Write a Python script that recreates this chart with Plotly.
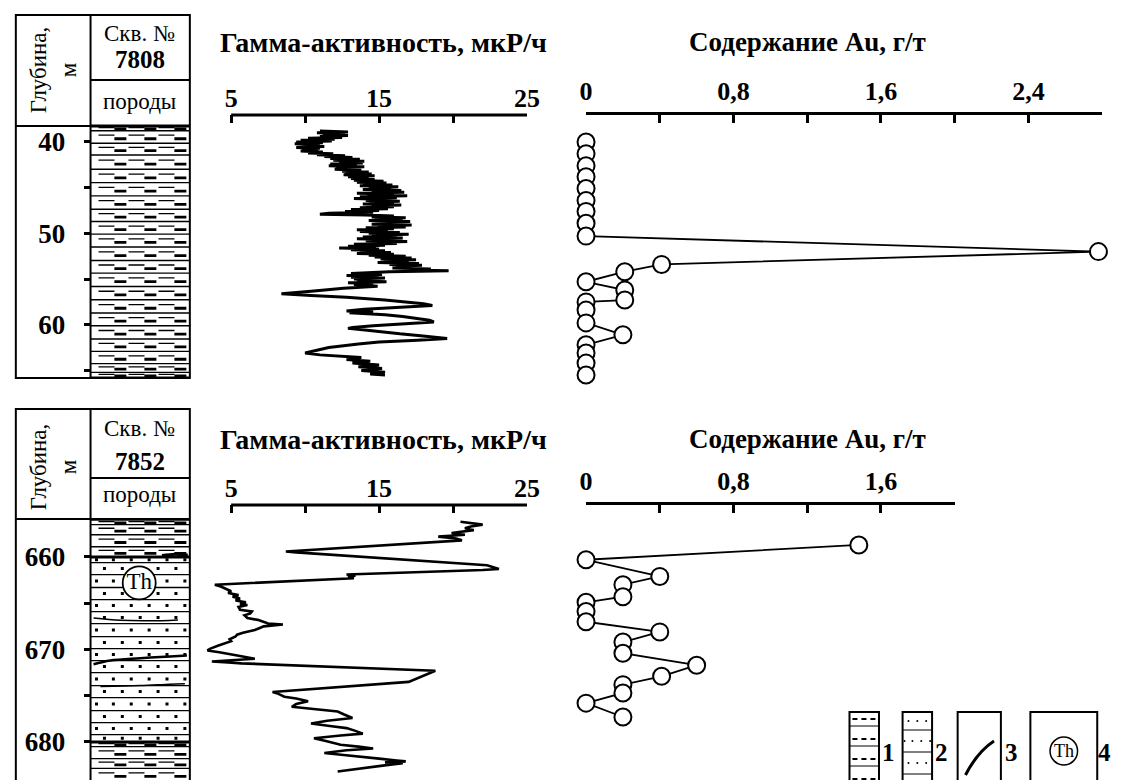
import plotly.graph_objects as go

W, H = 1124, 780
SERIF = "Liberation Serif"

def px(x):
    return x / W

def py(y):
    return 1 - y / H

# ---------------- data: well 7808 ----------------
g1_depth = [38.8, 38.9, 39.0, 39.1, 39.2, 39.3, 39.4, 39.5, 39.6, 39.7, 39.8, 39.9, 40.0, 40.1, 40.2, 40.3,
            40.4, 40.5, 40.6, 40.7, 40.8, 40.9, 41.0, 41.1, 41.2, 41.3, 41.4, 41.5, 41.6, 41.7, 41.8, 41.9,
            42.0, 42.1, 42.2, 42.3, 42.4, 42.5, 42.6, 42.7, 42.8, 42.9, 43.0, 43.1, 43.2, 43.3, 43.4, 43.5,
            43.6, 43.7, 43.8, 43.9, 44.0, 44.1, 44.2, 44.3, 44.4, 44.5, 44.6, 44.7, 44.8, 44.9, 45.0, 45.1,
            45.2, 45.3, 45.4, 45.5, 45.6, 45.7, 45.8, 45.9, 46.0, 46.1, 46.2, 46.3, 46.4, 46.5, 46.6, 46.7,
            46.8, 46.9, 47.0, 47.1, 47.2, 47.3, 47.4, 47.5, 47.6, 47.7, 47.8, 47.9, 48.0, 48.1, 48.2, 48.3,
            48.4, 48.5, 48.6, 48.7, 48.8, 48.9, 49.0, 49.1, 49.2, 49.3, 49.4, 49.5, 49.6, 49.7, 49.8, 49.9,
            50.0, 50.1, 50.2, 50.3, 50.4, 50.5, 50.6, 50.7, 50.8, 50.9, 51.0, 51.1, 51.2, 51.3, 51.4, 51.5,
            51.6, 51.7, 51.8, 51.9, 52.0, 52.1, 52.2, 52.3, 52.4, 52.5, 52.6, 52.7, 52.8, 52.9, 53.0, 53.1,
            53.2, 53.3, 53.4, 53.5, 53.6, 53.7, 53.8, 53.9, 54.0, 54.1, 54.2, 54.3, 54.4, 54.5, 54.6, 54.7,
            54.8, 54.9, 55.0, 55.1, 55.2, 55.3, 55.4, 55.5, 55.6, 55.8, 56.0, 56.3, 56.6, 56.8, 57.0, 57.3,
            57.5, 57.7, 57.9, 58.1, 58.3, 58.5, 58.6, 58.7, 58.9, 59.1, 59.3, 59.5, 59.7, 59.9, 60.1, 60.3,
            60.4, 60.6, 60.8, 61.0, 61.2, 61.4, 61.5, 61.7, 61.9, 62.1, 62.3, 62.5, 62.8, 63.1, 63.3, 63.5,
            63.6, 63.8, 64.0, 64.2, 64.4, 64.6, 64.8, 65.0, 65.2, 65.4, 65.5]
g1_value = [11.0, 12.9, 10.8, 12.7, 11.2, 12.9, 11.0, 12.5, 10.2, 12.0, 9.7, 11.8, 9.4, 11.2, 9.3, 11.0,
            9.9, 11.3, 9.4, 11.0, 9.8, 10.9, 9.7, 11.2, 10.2, 11.9, 10.8, 12.7, 11.3, 13.2, 11.7, 13.7,
            11.9, 14.0, 12.3, 13.9, 11.7, 13.5, 11.6, 14.0, 12.1, 13.3, 12.0, 13.8, 12.5, 14.3, 12.7, 14.5,
            12.6, 14.7, 12.9, 14.3, 13.1, 14.7, 13.3, 15.3, 13.5, 15.5, 13.9, 15.9, 13.7, 16.3, 14.3, 15.8,
            13.9, 16.5, 14.5, 16.7, 13.5, 16.0, 14.2, 16.9, 13.7, 16.2, 13.3, 15.6, 14.1, 16.4, 14.3, 16.0,
            13.9, 16.5, 14.5, 16.0, 13.7, 15.6, 13.1, 15.0, 12.7, 14.6, 11.6, 11.0, 14.1, 16.0, 14.5, 16.8,
            14.7, 16.6, 14.3, 17.1, 15.1, 16.4, 14.5, 17.2, 14.9, 16.8, 14.1, 16.0, 13.5, 15.6, 13.7, 16.4,
            14.3, 17.0, 14.5, 16.2, 13.9, 16.6, 13.5, 15.8, 14.1, 16.9, 14.5, 16.2, 13.3, 15.4, 12.9, 14.8,
            12.3, 15.0, 13.1, 15.4, 13.7, 15.8, 13.5, 16.0, 14.3, 16.8, 14.7, 17.2, 15.1, 17.5, 15.3, 17.0,
            14.9, 17.7, 15.7, 17.9, 16.1, 17.4, 15.9, 18.5, 16.7, 19.7, 15.7, 14.1, 13.1, 15.2, 12.8, 15.0,
            13.1, 15.4, 13.3, 14.8, 13.5, 15.5, 12.9, 14.6, 13.3, 14.9, 12.6, 10.6, 8.4, 10.4, 12.8, 15.4,
            16.6, 18.0, 18.6, 16.2, 14.0, 12.8, 14.6, 13.0, 15.4, 16.6, 17.6, 18.4, 18.7, 16.4, 14.6, 13.2,
            12.9, 14.2, 15.2, 16.4, 17.8, 18.8, 19.6, 17.6, 15.0, 13.6, 12.4, 11.6, 10.8, 10.0, 11.0, 12.8,
            13.8, 12.8, 14.4, 13.2, 15.0, 13.6, 15.2, 13.8, 15.4, 14.4, 15.4]

au1_depth = [40.0, 41.3, 42.6, 43.8, 45.1, 46.4, 47.6, 48.9, 50.3, 52.0, 53.4, 54.2, 55.3, 56.2, 57.3,
             57.5, 58.4, 59.8, 61.1, 62.2, 63.1, 64.2, 65.5]
au1_value = [0, 0, 0, 0, 0, 0, 0, 0, 0, 2.78, 0.41, 0.21, 0, 0.21, 0.21,
             0, 0, 0, 0.2, 0, 0, 0, 0]

top_beds = [38.25, 38.77, 40.14, 41.42, 42.98, 44.45, 45.9, 47.36, 48.7, 50.09, 51.5, 52.97,
            54.35, 55.81, 57.27, 58.72, 60.11, 61.56, 62.92, 64.26, 65.21, 65.83]

# ---------------- data: well 7852 ----------------
g2_depth = [656.2, 656.5, 656.7, 656.9, 657.1, 657.3, 657.4, 657.6, 657.8, 658.0, 658.2, 659.4, 659.5,
            660.9, 661.3, 661.4, 661.8, 661.9, 662.0, 662.2, 662.3, 663.0, 663.2, 663.4, 663.7, 663.9,
            664.1, 664.3, 664.5, 664.7, 664.9, 665.1, 665.2, 665.4, 665.7, 665.9, 666.1, 666.3, 666.6,
            666.8, 667.0, 667.2, 667.3, 667.5, 667.7, 667.9, 668.2, 668.4, 668.6, 668.9, 669.1, 669.3,
            669.6, 669.9, 670.1, 670.3, 670.5, 670.7, 671.0, 671.2, 671.3, 671.4, 671.5, 672.3, 673.5,
            674.6, 674.8, 675.1, 675.3, 675.6, 675.9, 676.2, 676.4, 676.7, 677.0, 677.4, 677.7, 678.0,
            678.3, 678.5, 678.8, 679.1, 679.3, 679.6, 679.9, 680.3, 680.5, 680.7, 680.9, 681.2, 681.4,
            681.6, 681.8, 682.0, 682.1, 682.2, 682.3, 682.5, 682.7, 682.9, 683.2]
g2_value = [20.5, 22.0, 21.2, 20.8, 21.4, 20.2, 19.9, 20.8, 19.0, 20.2, 20.6, 8.7, 9.4,
            22.3, 23.1, 22.0, 13.6, 12.8, 13.4, 12.9, 13.3, 3.9, 4.3, 4.6, 5.0, 4.8,
            5.5, 5.1, 5.6, 5.3, 6.0, 5.6, 6.1, 5.5, 5.6, 6.4, 6.3, 5.9, 6.1,
            6.8, 7.1, 7.5, 8.5, 7.2, 6.9, 6.6, 5.8, 5.4, 5.3, 4.9, 5.0, 4.6,
            4.1, 3.6, 3.4, 4.2, 4.8, 5.6, 6.6, 4.6, 3.7, 4.8, 5.7, 18.8, 17.0,
            7.8, 8.2, 8.6, 9.4, 10.2, 9.4, 9.1, 10.5, 12.2, 12.6, 13.2, 11.5, 10.4,
            11.8, 12.8, 13.4, 13.9, 12.4, 10.6, 11.4, 12.4, 13.6, 14.6, 12.8, 11.3, 12.6,
            14.0, 15.0, 16.2, 16.8, 15.4, 16.6, 15.5, 14.6, 13.6, 12.2]

au2_depth = [658.7, 660.3, 662.1, 663.0, 664.3, 664.9, 665.9, 667.0, 668.1, 669.2, 670.4, 671.7,
             672.9, 673.8, 674.7, 675.8, 677.3]
au2_value = [1.48, 0, 0.40, 0.2, 0.2, 0, 0, 0, 0.4, 0.2, 0.2, 0.6,
             0.41, 0.2, 0.2, 0, 0.2]

bot_clay_top = [656.0, 656.5, 657.6, 658.9, 660.0]
bot_sand = [660.0, 660.6, 661.9, 663.3, 664.6, 665.9, 667.2, 668.6, 669.9, 671.2, 672.5,
            673.9, 675.2, 676.6, 677.9, 679.2, 680.0]
bot_clay_bottom = [680.0, 680.5, 681.8, 682.85, 684.2]
lens_x = [[0.72, 0.85, 0.98], [0.03, 0.3, 0.6, 0.88], [0.03, 0.2, 0.5, 0.8, 0.97], [0.1, 0.5, 0.8, 0.95]]
lens_d = [[659.85, 659.7, 659.8], [666.6, 666.85, 666.9, 666.8], [671.6, 671.2, 670.95, 670.75, 670.65],
          [674.0, 673.9, 673.75, 673.7]]
lens_w = [3, 1.5, 2.5, 1.5]
th_depth = 662.8

gamma_ticks = [5, 10, 15, 20, 25]
gamma_text = ["<b>5</b>", "", "<b>15</b>", "", "<b>25</b>"]
gamma_span = [5, 25]
au_ticks_top = [0, 0.4, 0.8, 1.2, 1.6, 2.0, 2.4, 2.8]
au_text_top = ["<b>0</b>", "", "<b>0,8</b>", "", "<b>1,6</b>", "", "<b>2,4</b>", ""]
au_ticks_bot = [0, 0.4, 0.8, 1.2, 1.6, 2.0]
au_text_bot = ["<b>0</b>", "", "<b>0,8</b>", "", "<b>1,6</b>", ""]
depth_ticks_top = [40, 45, 50, 55, 60, 65]
depth_text_top = ["<b>40</b>", "", "<b>50</b>", "", "<b>60</b>", ""]
depth_ticks_bot = [660, 665, 670, 675, 680]
depth_text_bot = ["<b>660</b>", "", "<b>670</b>", "", "<b>680</b>"]
legend_labels = ["1", "2", "3", "4"]

# ---------------- figure ----------------
fig = go.Figure()
BLACK = "black"


def hlines(depths, x0=0.0, x1=1.0):
    xs, ys = [], []
    for d in depths:
        xs += [x0, x1, None]
        ys += [d, d, None]
    return xs, ys


def add_clay(beds, xa, ya):
    xs, ys = hlines(beds)
    fig.add_trace(go.Scatter(x=xs, y=ys, xaxis=xa, yaxis=ya, mode="lines",
                             line=dict(color=BLACK, width=1.4), hoverinfo="skip"))
    r1, r2 = [], []
    for a, b in zip(beds[:-1], beds[1:]):
        h = b - a
        r1.append(a + h * 0.36)
        r2.append(a + h * 0.64)
    xs, ys = hlines(r1, 0.08, 0.98)
    fig.add_trace(go.Scatter(x=xs, y=ys, xaxis=xa, yaxis=ya, mode="lines",
                             line=dict(color=BLACK, width=1.3, dash="16px,14px"), hoverinfo="skip"))
    xs, ys = hlines(r2, 0.24, 0.98)
    fig.add_trace(go.Scatter(x=xs, y=ys, xaxis=xa, yaxis=ya, mode="lines",
                             line=dict(color=BLACK, width=2.8, dash="12px,18px"), hoverinfo="skip"))


def add_sand(beds, xa, ya):
    xs, ys = hlines(beds)
    fig.add_trace(go.Scatter(x=xs, y=ys, xaxis=xa, yaxis=ya, mode="lines",
                             line=dict(color=BLACK, width=1.3), hoverinfo="skip"))
    dx, dy = [], []
    for i, (a, b) in enumerate(zip(beds[:-1], beds[1:])):
        pos = [0.06, 0.23, 0.41, 0.59, 0.77, 0.95] if i % 2 == 0 else [0.14, 0.32, 0.5, 0.68, 0.86]
        for p in pos:
            dx.append(p)
            dy.append((a + b) / 2)
    fig.add_trace(go.Scatter(x=dx, y=dy, xaxis=xa, yaxis=ya, mode="markers",
                             marker=dict(color=BLACK, size=3, symbol="square"), hoverinfo="skip"))


fig.add_trace(go.Scatter(x=g1_value, y=g1_depth, xaxis="x", yaxis="y", mode="lines",
                         line=dict(color=BLACK, width=3), hoverinfo="skip"))
fig.add_trace(go.Scatter(x=au1_value, y=au1_depth, xaxis="x2", yaxis="y", mode="lines+markers",
                         line=dict(color=BLACK, width=1.8),
                         marker=dict(size=17, color="white", line=dict(color=BLACK, width=2)),
                         cliponaxis=False, hoverinfo="skip"))
add_clay(top_beds, "x3", "y")
fig.add_trace(go.Scatter(x=[0, 1, None, 0, 1], y=[top_beds[0], top_beds[0], None, top_beds[-1], top_beds[-1]],
                         xaxis="x3", yaxis="y", mode="lines", line=dict(color=BLACK, width=3),
                         hoverinfo="skip"))

fig.add_trace(go.Scatter(x=g2_value, y=g2_depth, xaxis="x4", yaxis="y2", mode="lines",
                         line=dict(color=BLACK, width=2.6), hoverinfo="skip"))
add_clay(bot_clay_top, "x6", "y2")
add_sand(bot_sand, "x6", "y2")
add_clay(bot_clay_bottom, "x6", "y2")
fig.add_trace(go.Scatter(x=[0, 1, None, 0, 1], y=[660.0, 660.0, None, 680.0, 680.0],
                         xaxis="x6", yaxis="y2", mode="lines", line=dict(color=BLACK, width=3),
                         hoverinfo="skip"))
for lx, ld, lw in zip(lens_x, lens_d, lens_w):
    fig.add_trace(go.Scatter(x=lx, y=ld, xaxis="x6", yaxis="y2", mode="lines",
                             line=dict(color=BLACK, width=lw, shape="spline"), hoverinfo="skip"))
fig.add_trace(go.Scatter(x=[0.49], y=[th_depth], xaxis="x6", yaxis="y2", mode="markers+text",
                         marker=dict(size=33, color="white", line=dict(color=BLACK, width=1.8)),
                         text=["Th"], textposition="middle center",
                         textfont=dict(family=SERIF, size=23, color=BLACK), hoverinfo="skip"))
fig.add_trace(go.Scatter(x=au2_value, y=au2_depth, xaxis="x5", yaxis="y2", mode="lines+markers",
                         line=dict(color=BLACK, width=1.8),
                         marker=dict(size=17, color="white", line=dict(color=BLACK, width=2)),
                         cliponaxis=False, hoverinfo="skip"))

tickfont = dict(family=SERIF, size=26, color=BLACK)
depthfont = dict(family=SERIF, size=27, color=BLACK)


def top_axis(domain, rng, tv, tt, anchor, showline=True):
    return dict(domain=domain, range=rng, anchor=anchor, side="top", showline=showline, linewidth=3,
                linecolor=BLACK, ticks="inside", ticklen=8, tickwidth=2.5, tickcolor=BLACK,
                tickvals=tv, ticktext=tt, tickfont=tickfont, showgrid=False, zeroline=False,
                fixedrange=True, ticklabelstandoff=2)


def depth_axis(domain, rng, tv, tt):
    return dict(domain=domain, range=rng, anchor="free", position=px(86), side="left",
                showline=False, ticks="outside", ticklen=7, tickwidth=3, tickcolor=BLACK,
                tickvals=tv, ticktext=tt, tickfont=depthfont, showgrid=False, zeroline=False,
                fixedrange=True, ticklabelstandoff=13)


hidden = dict(range=[0, 1], visible=False, fixedrange=True)
# gamma axes extended to the left at the same scale so values below 5 are not clipped;
# the axis line is drawn only over the 5-25 span
G0, G1, GEXT = 229, 530, 45
g_dom = [px(G0 - GEXT), px(G1)]
g_rng = [5 - GEXT * (gamma_span[1] - gamma_span[0]) / (G1 - G0), gamma_span[1]]

fig.update_layout(
    width=W, height=H, autosize=False, margin=dict(l=0, r=0, t=0, b=0, pad=0),
    paper_bgcolor="white", plot_bgcolor="rgba(0,0,0,0)", showlegend=False,
    font=dict(family=SERIF, color=BLACK),
    xaxis=top_axis(g_dom, g_rng, gamma_ticks, gamma_text, "y", showline=False),
    xaxis2=top_axis([px(590), px(1115)], [-0.0001, 2.8001], au_ticks_top, au_text_top, "y"),
    xaxis3=dict(domain=[px(86), px(187)], anchor="y", **hidden),
    xaxis4=top_axis(g_dom, g_rng, gamma_ticks, gamma_text, "y2", showline=False),
    xaxis5=top_axis([px(590), px(965)], [-0.0001, 2.0001], au_ticks_bot, au_text_bot, "y2"),
    xaxis6=dict(domain=[px(86), px(187)], anchor="y2", **hidden),
    yaxis=depth_axis([py(378), py(115)], [65.83, 37.05], depth_ticks_top, depth_text_top),
    yaxis2=depth_axis([0, py(505)], [684.11, 654.38], depth_ticks_bot, depth_text_bot),
)

shapes = []


def line(x0, y0, x1, y1, w=2, dash=None):
    d = dict(type="line", xref="paper", yref="paper", x0=px(x0), y0=py(y0), x1=px(x1), y1=py(y1),
             line=dict(color=BLACK, width=w))
    if dash:
        d["line"]["dash"] = dash
    shapes.append(d)


def rect(x0, y0, x1, y1, w=2):
    shapes.append(dict(type="rect", xref="paper", yref="paper", x0=px(x0), y0=py(y0), x1=px(x1),
                       y1=py(y1), line=dict(color=BLACK, width=w)))


for xa, yy in (("x", 115), ("x4", 505)):
    shapes.append(dict(type="line", xref=xa, yref="paper", x0=gamma_span[0], x1=gamma_span[1],
                       y0=py(yy), y1=py(yy), line=dict(color=BLACK, width=3)))

# header tables
rect(10, 15, 187, 378)
line(86, 15, 86, 378)
line(10, 126, 187, 126)
line(86, 80, 187, 80)
rect(10, 409, 187, 800)
line(86, 409, 86, 800)
line(10, 519, 187, 519)
line(86, 478, 187, 478)

# legend
LT = 712
b1, b2, b3, b4 = (858, 888), (912, 942), (968, 1012), (1042, 1110)
rect(b1[0], LT, b1[1], 800)
for yy in [726, 746, 766]:
    line(b1[0], yy, b1[1], yy, 1)
for yy in [719, 739, 759, 779]:
    line(b1[0] + 3, yy, b1[1] - 2, yy, 2, "5px,4px")
rect(b2[0], LT, b2[1], 800)
for yy in [730, 752, 774]:
    line(b2[0], yy, b2[1], yy, 1)
for i, yy in enumerate([721, 741, 763]):
    for xx in ([b2[0] + 6, b2[0] + 15, b2[0] + 24] if i % 2 == 0 else [b2[0] + 2, b2[0] + 10, b2[0] + 19, b2[0] + 28]):
        shapes.append(dict(type="circle", xref="paper", yref="paper", x0=px(xx - 1), x1=px(xx + 1),
                           y0=py(yy - 1), y1=py(yy + 1), fillcolor=BLACK, line=dict(width=0)))
rect(b3[0], LT, b3[1], 800)
shapes.append(dict(type="path", xref="paper", yref="paper",
                   path=f"M {px(976)},{py(775)} Q {px(988)},{py(752)} {px(1005)},{py(741)}",
                   line=dict(color=BLACK, width=3)))
rect(b4[0], LT, b4[1], 800)
shapes.append(dict(type="circle", xref="paper", yref="paper", x0=px(1062), x1=px(1090),
                   y0=py(737), y1=py(765), line=dict(color=BLACK, width=1.5)))

annotations = []


def text(x, y, s, size=22, angle=0):
    annotations.append(dict(x=px(x), y=py(y), xref="paper", yref="paper", text=s, showarrow=False,
                            font=dict(family=SERIF, size=size, color=BLACK), textangle=angle,
                            xanchor="center", yanchor="middle"))


for y0 in (0, 397):
    text(48, 70 + y0, "Глубина,<br>м", 23, -90)
    text(136, 34 + y0 - (3 if y0 else 0), "Скв. №", 23)
    text(136, 102 + y0 - (5 if y0 else 0), "породы", 23)
    text(384, 42 + y0, "<b>Гамма-активность, мкР/ч</b>", 28)
    text(815, 42 + y0, "<b>Содержание Au, г/т</b>", 27)
text(136, 60, "<b>7808</b>", 25)
text(136, 461, "<b>7852</b>", 25)
text(1076, 751, "Th", 18)
for lab, xx in zip(legend_labels, [898, 952, 1023, 1117]):
    text(xx, 752, "<b>" + lab + "</b>", 25)

fig.update_layout(shapes=shapes, annotations=annotations)
fig.write_html("out.html", config={"displayModeBar": False, "responsive": False},
               post_script="document.body.style.margin='0';document.body.style.overflow='hidden';")
